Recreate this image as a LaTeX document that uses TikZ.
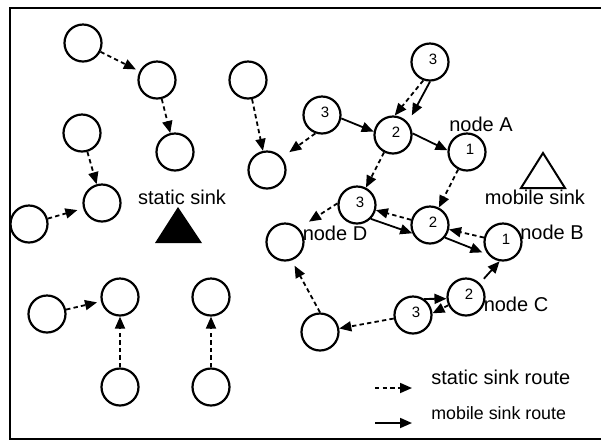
\documentclass[tikz,border=0pt]{standalone}
\usepackage{fontspec}
\setmainfont{Liberation Sans}
\usetikzlibrary{arrows.meta}

\tikzset{
    sensor/.style={draw, circle, line width=1.1pt, minimum size=18.5pt, inner sep=0pt, font=\fontsize{7.5}{8}\selectfont},
    static/.style={-{Triangle[length=6pt,width=5pt]}, line width=0.9pt, dash pattern=on 2.2pt off 1.6pt},
    mobile/.style={-{Triangle[length=6pt,width=5pt]}, line width=0.9pt},
    tag/.style={inner sep=0pt, font=\fontsize{10}{12}\selectfont},
}
% hop count sits up and to the right inside the circle
\newcommand{\hopnum}[1]{\raisebox{2.5pt}{\kern3pt#1}}

\begin{document}
\begin{tikzpicture}[x=0.5pt, y=-0.5pt]
    \useasboundingbox (0,0) rectangle (601,441);

    % frame
    \draw[line width=1pt] (601,8) -- (10,8) -- (10,439) -- (601,439);

    % sensors on the static sink side
    \foreach \i/\px/\py in {1/83/43, 2/157/80, 3/175/152, 4/82/133, 5/102/203, 6/248/80, 7/267/170,
                            8/29/224, 9/47/314, 10/120/297, 11/120/387, 12/211/297, 13/211/387} {
        \node[sensor] (s\i) at (\px,\py) {};
    }

    % sensors with hop counts
    \node[sensor] (t3) at (430,62)  {\hopnum{3}};
    \node[sensor] (l3) at (322,115) {\hopnum{3}};
    \node[sensor] (m2) at (393,135) {\hopnum{2}};
    \node[sensor] (nA) at (467,152) {\hopnum{1}};
    \node[sensor] (d3) at (357,205) {\hopnum{3}};
    \node[sensor] (n2) at (430,225) {\hopnum{2}};
    \node[sensor] (nB) at (503,242) {\hopnum{1}};
    \node[sensor] (nC) at (466,297) {\hopnum{2}};
    \node[sensor] (c3) at (413,315) {\hopnum{3}};
    \node[sensor] (dl) at (285,242) {};
    \node[sensor] (bt) at (320,332) {};

    % sinks
    \fill (178,207) -- (155,243) -- (202,243) -- cycle;
    \draw[line width=1pt] (543,153) -- (521,188) -- (565,188) -- cycle;
    \node[tag] (ssink) at (182,197) {static sink};
    \node[tag] (msink) at (535,197) {mobile sink};

    % node names
    \node[tag] (labA) at (481,124) {node A};
    \node[tag] (labB) at (552,232) {node B};
    \node[tag] (labC) at (516,304) {node C};
    \node[tag] (labD) at (335,233) {node D};

    % routes to the static sink
    \draw[static, shorten >=2pt] (s1) -- (s2);
    \draw[static] (s2) -- (s3);
    \draw[static] (s4) -- (s5);
    \draw[static, shorten >=3pt] (s8) -- (s5);
    \draw[static] (s6) -- (s7);
    \draw[static, shorten >=2pt] (s9) -- (s10);
    \draw[static] (s11) -- (s10);
    \draw[static] (s13) -- (s12);
    \draw[static] (t3.250) -- (m2.85);
    \draw[static, shorten >=4.5pt] (l3.250) -- (s7.40);
    \draw[static] (m2) -- (d3);
    \draw[static] (nA) -- (n2);
    \draw[static] (n2) -- (d3);
    \draw[static, shorten >=6pt] (d3.175) -- (dl.45);
    \draw[static] (nB) -- (n2);
    \draw[static] (nC.205) -- (c3.5);
    \draw[static] (c3) -- (bt);
    \draw[static, shorten >=3pt] (bt.north) -- (dl.-70);

    % routes to the mobile sink
    \draw[mobile, shorten >=4pt] (t3.270) -- (m2.40);
    \draw[mobile] (l3.-10) -- (m2.170);
    \draw[mobile] (m2.5) -- (nA.175);
    \draw[mobile] (d3.-45) -- (n2.205);
    \draw[mobile, shorten >=3pt] (n2.-40) -- (nB.220);
    \draw[mobile, shorten <=3pt] (nC.45) -- (nB.260);
    \draw[mobile] (c3.55) -- (nC.185);

    % legend
    \coordinate (ls0) at (375,388);
    \coordinate (ls1) at (412,388);
    \coordinate (lm0) at (375,423);
    \coordinate (lm1) at (412,423);
    \draw[static] (ls0) -- (ls1);
    \draw[mobile] (lm0) -- (lm1);
    \node[tag, anchor=west] (lsText) at (431,377) {static sink route};
    \node[tag, anchor=west, font=\fontsize{8.9}{10}\selectfont] (lmText) at (431,413) {mobile sink route};
\end{tikzpicture}
\end{document}
